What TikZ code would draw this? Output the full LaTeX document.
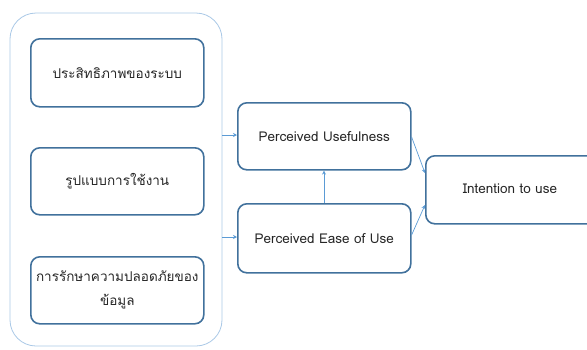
\documentclass[tikz,border=0pt]{standalone}
\usepackage{fontspec}
\setmainfont{Loma}[Script=Thai]
\usetikzlibrary{arrows.meta}
\definecolor{boxline}{HTML}{41719C}
\definecolor{groupline}{HTML}{A9C8E6}
\definecolor{linkline}{HTML}{5B9BD5}
\definecolor{txt}{HTML}{262626}
\begin{document}
\begin{tikzpicture}[x=1pt,y=-1pt,
  factor/.style={draw=boxline,line width=1.6pt,rounded corners=9pt,fill=white,
    text=txt,font=\fontsize{13.5}{24}\selectfont,align=center,anchor=north west,inner sep=0pt},
  group/.style={draw=groupline,line width=0.8pt,rounded corners=26pt},
  link/.style={draw=linkline,line width=0.7pt,-{Stealth[length=4pt,width=4pt]}}]
\useasboundingbox (0,0) rectangle (587,349);
\clip (0,0) rectangle (587,349);
% grouping frame around the three system factors
\draw[group] (10,13) rectangle (222,346);
\coordinate (gU) at (222,135);
\coordinate (gE) at (222,237);
% system factors
\node[factor,minimum width=173pt,minimum height=68pt] (f1) at (30,38) {ประสิทธิภาพของระบบ};
\node[factor,minimum width=173pt,minimum height=67pt] (f2) at (30,147) {รูปแบบการใช้งาน};
\node[factor,minimum width=173pt,minimum height=67pt] (f3) at (30,256) {การรักษาความปลอดภัยของ\\ข้อมูล};
% TAM constructs
\node[factor,minimum width=173pt,minimum height=67pt] (pu) at (237,102) {Perceived Usefulness};
\node[factor,minimum width=173pt,minimum height=69pt] (pe) at (237,203) {Perceived Ease of Use};
\node[factor,minimum width=190pt,minimum height=68pt] (iu) at (425,155) {};
\node[text=txt,font=\fontsize{13.5}{24}\selectfont] at (510,189) {Intention to use};
% connectors
\draw[link] (gU) -- (pu.west |- gU);
\draw[link] (gE) -- (pe.west |- gE);
\draw[link] (pe.north -| 324,0) -- (pu.south -| 324,0);
\draw[link] (pu.east |- 0,137) -- (iu.west |- 0,173);
\draw[link] (pe.east |- 0,235) -- (iu.west |- 0,205);
\end{tikzpicture}
\end{document}
